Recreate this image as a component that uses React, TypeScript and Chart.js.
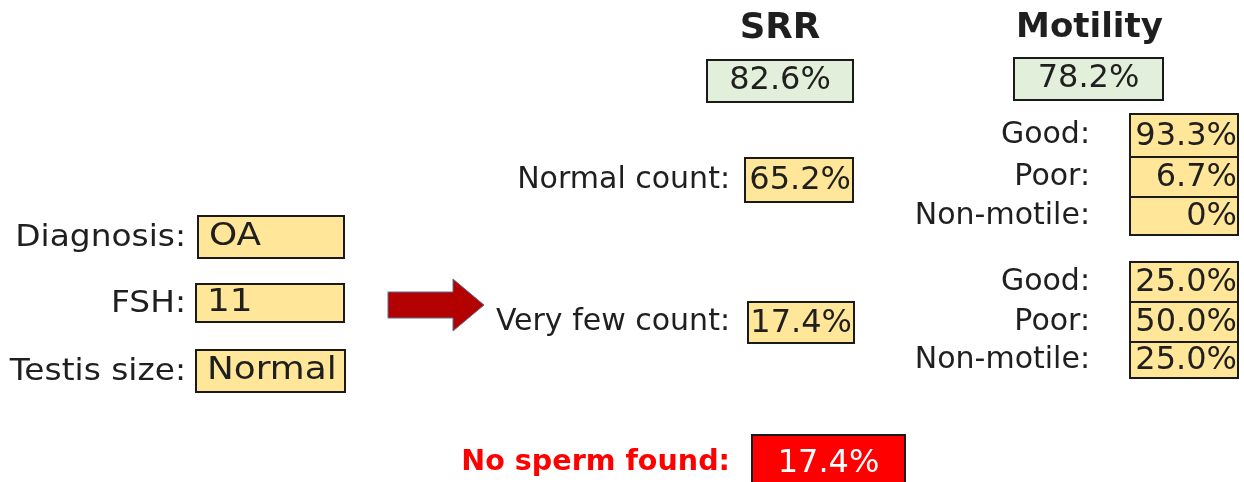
import React, { useEffect, useRef } from "react";
import { Chart, registerables } from "chart.js";

Chart.register(...registerables);

// ---------- data ----------
const inputLabels = ["Diagnosis:", "FSH:", "Testis size:"];
const inputValues = ["OA", "11", "Normal"];
const srrTitle = "SRR";
const srrValue = [82.6];
const motilityTitle = "Motility";
const motilityValue = [78.2];
const countLabels = ["Normal count:", "Very few count:"];
const countValues = [65.2, 17.4];
const motilityLabels = ["Good:", "Poor:", "Non-motile:"];
const normalCountMotility = [93.3, 6.7, 0];
const veryFewCountMotility = [25.0, 50.0, 25.0];
const noSpermLabel = "No sperm found:";
const noSpermValue = [17.4];

// ---------- layout (value-space of hidden 0..1244 x 0..482 scales) ----------
const W = 1244;
const H = 482;
const inputBoxes = [
  { x0: 198, x1: 344, y0: 216, y1: 258 },
  { x0: 196, x1: 344, y0: 284, y1: 322 },
  { x0: 196, x1: 345, y0: 350, y1: 392 },
];
const inputLabelRight = 186;
const countBoxes = [
  { x0: 745, x1: 853, y0: 158, y1: 202 },
  { x0: 748, x1: 854, y0: 302, y1: 343 },
];
const countLabelRight = 730;
const srrBox = { x0: 707, x1: 853, y0: 60, y1: 102 };
const motBox = { x0: 1014, x1: 1163, y0: 58, y1: 100 };
const motGroups = [
  { x0: 1130, x1: 1238, rows: [114, 157, 197, 235] },
  { x0: 1130, x1: 1238, rows: [262, 302, 342, 378] },
];
const motLabelRight = 1090;
const noSpermBox = { x0: 752, x1: 905, y0: 435, y1: 492 };
const arrow = { x0: 388, xh: 453, x1: 484, yc: 305, shaft: 13, head: 26 };

const FONT = '"DejaVu Sans", Verdana, sans-serif';
const TEXT = "#1f1f1f";
const BORDER = "#1a1a1a";
const YELLOW = "#FFE699";
const GREEN = "#E2EFDA";
const RED = "#FF0000";
const ARROW = "#B30000";

const pct = (v: number) => (v === 0 ? "0%" : v.toFixed(1) + "%");

const diagramPlugin = {
  id: "diagram",
  afterDraw(chart: any) {
    const ctx: CanvasRenderingContext2D = chart.ctx;
    const xs = chart.scales.x;
    const ys = chart.scales.y;
    const px = (v: number) => xs.getPixelForValue(v);
    const py = (v: number) => ys.getPixelForValue(v);

    const box = (b: { x0: number; x1: number; y0: number; y1: number }, fill: string) => {
      ctx.save();
      ctx.fillStyle = fill;
      const x = px(b.x0), y = py(b.y0), w = px(b.x1) - x, h = py(b.y1) - y;
      ctx.fillRect(x, y, w, h);
      ctx.lineWidth = 2;
      ctx.strokeStyle = BORDER;
      ctx.strokeRect(x, y, w, h);
      ctx.restore();
    };
    const text = (
      s: string, x: number, y: number, align: CanvasTextAlign,
      font: string, color = TEXT, sx = 1
    ) => {
      ctx.save();
      ctx.font = font;
      ctx.fillStyle = color;
      ctx.textAlign = align;
      ctx.textBaseline = "middle";
      ctx.translate(px(x), py(y));
      ctx.scale(sx, 1);
      ctx.fillText(s, 0, 0);
      ctx.restore();
    };

    const labelFont = `30px ${FONT}`;
    const inputFont = `32px ${FONT}`;
    const valueFont = `32px ${FONT}`;
    const VSX = 1.0;

    // inputs
    inputLabels.forEach((l, i) => {
      const b = inputBoxes[i];
      box(b, YELLOW);
      const yc = (b.y0 + b.y1) / 2;
      text(l, inputLabelRight, yc + 1, "right", `31px ${FONT}`, TEXT, 1.06);
      text(inputValues[i], b.x0 + 11, yc, "left", inputFont, TEXT, 1.12);
    });

    // arrow
    ctx.save();
    ctx.fillStyle = ARROW;
    ctx.strokeStyle = "#5a6f95";
    ctx.lineWidth = 1;
    ctx.beginPath();
    ctx.moveTo(px(arrow.x0), py(arrow.yc - arrow.shaft));
    ctx.lineTo(px(arrow.xh), py(arrow.yc - arrow.shaft));
    ctx.lineTo(px(arrow.xh), py(arrow.yc - arrow.head));
    ctx.lineTo(px(arrow.x1), py(arrow.yc));
    ctx.lineTo(px(arrow.xh), py(arrow.yc + arrow.head));
    ctx.lineTo(px(arrow.xh), py(arrow.yc + arrow.shaft));
    ctx.lineTo(px(arrow.x0), py(arrow.yc + arrow.shaft));
    ctx.closePath();
    ctx.fill();
    ctx.stroke();
    ctx.restore();

    // titles
    text(srrTitle, (srrBox.x0 + srrBox.x1) / 2 + 0, 29, "center", `bold 35px ${FONT}`, TEXT, 1.02);
    text(motilityTitle, (motBox.x0 + motBox.x1) / 2 + 1, 28, "center", `bold 34px ${FONT}`);
    box(srrBox, GREEN);
    text(pct(srrValue[0]), (srrBox.x0 + srrBox.x1) / 2, (srrBox.y0 + srrBox.y1) / 2, "center", valueFont, TEXT, VSX);
    box(motBox, GREEN);
    text(pct(motilityValue[0]), (motBox.x0 + motBox.x1) / 2, (motBox.y0 + motBox.y1) / 2, "center", valueFont, TEXT, VSX);

    // counts
    countLabels.forEach((l, i) => {
      const b = countBoxes[i];
      box(b, YELLOW);
      const yc = (b.y0 + b.y1) / 2;
      text(l, countLabelRight, yc, "right", labelFont);
      text(pct(countValues[i]), b.x1 - 2, yc + 1, "right", valueFont, TEXT, VSX);
    });

    // motility groups
    [normalCountMotility, veryFewCountMotility].forEach((vals, g) => {
      const grp = motGroups[g];
      vals.forEach((v, r) => {
        const b = { x0: grp.x0, x1: grp.x1, y0: grp.rows[r], y1: grp.rows[r + 1] };
        box(b, YELLOW);
        const yc = (b.y0 + b.y1) / 2;
        text(motilityLabels[r], motLabelRight, yc, "right", labelFont);
        text(pct(v), b.x1 - 1, yc + 1, "right", valueFont, TEXT, VSX);
      });
    });

    // no sperm
    text(noSpermLabel, countLabelRight, 463, "right", `bold 28px ${FONT}`, RED, 1.02);
    box(noSpermBox, RED);
    text(pct(noSpermValue[0]), (noSpermBox.x0 + noSpermBox.x1) / 2, 464, "center", valueFont, "#ffffff", VSX);
  },
};

export default function App() {
  const ref = useRef<HTMLCanvasElement | null>(null);
  useEffect(() => {
    document.body.style.margin = "0";
    const chart = new Chart(ref.current!, {
      type: "scatter",
      data: { datasets: [{ data: [], pointRadius: 0 }] },
      options: {
        animation: false,
        responsive: false,
        events: [],
        layout: { padding: 0 },
        plugins: { legend: { display: false }, tooltip: { enabled: false } },
        scales: {
          x: { type: "linear", min: 0, max: W, display: false },
          y: { type: "linear", min: 0, max: H, reverse: true, display: false },
        },
      },
      plugins: [diagramPlugin],
    });
    return () => chart.destroy();
  }, []);
  return (
    <div style={{ width: W, height: H, background: "#fff" }}>
      <canvas ref={ref} width={W} height={H} style={{ display: "block" }} />
    </div>
  );
}
